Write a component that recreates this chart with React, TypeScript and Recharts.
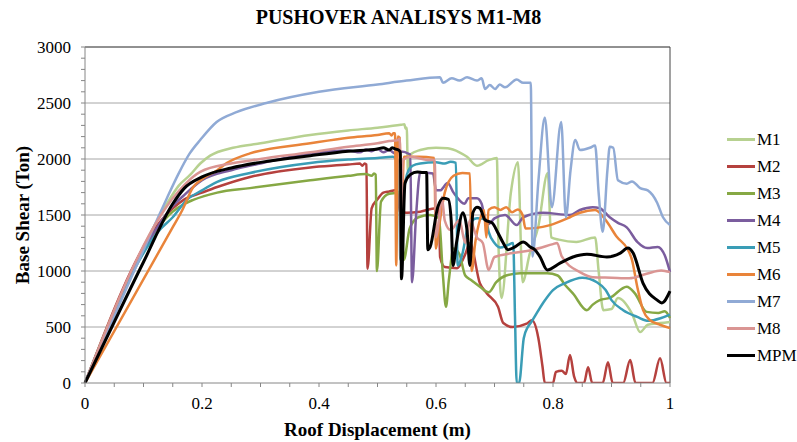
import React from 'react';
import { LineChart, Line, XAxis, YAxis, ReferenceLine } from 'recharts';

type Pt = [number, number];

// pushover curves: [roof displacement (m), base shear (ton)]
const m1: Pt[] = [
  [0, 0], [0.14, 1600], [0.16, 1760], [0.18, 1860], [0.197, 1960], [0.214, 2030], [0.253, 2100],
  [0.3, 2140], [0.385, 2215], [0.45, 2255], [0.5, 2280], [0.54, 2305], [0.546, 2310], [0.548, 2270],
  [0.55, 2280], [0.552, 1880], [0.556, 2040], [0.573, 2080], [0.6, 2100], [0.62, 2095], [0.64, 2060],
  [0.653, 2020], [0.67, 1940], [0.69, 1990], [0.704, 2010], [0.707, 1200], [0.712, 760], [0.728, 1700],
  [0.74, 1970], [0.748, 900], [0.76, 1150], [0.775, 1400], [0.791, 1875], [0.797, 1300], [0.81, 1280],
  [0.84, 1260], [0.872, 1300], [0.878, 1000], [0.886, 650], [0.9, 660], [0.911, 760], [0.935, 620],
  [0.949, 455], [0.962, 520], [0.983, 535], [1, 545],
];

const m2: Pt[] = [
  [0, 0], [0.13, 1450], [0.15, 1560], [0.17, 1640], [0.2, 1700], [0.226, 1750], [0.282, 1840],
  [0.385, 1925], [0.45, 1950], [0.47, 1960], [0.474, 1940], [0.478, 1960], [0.481, 1950], [0.483, 1020],
  [0.49, 1560], [0.5, 1640], [0.51, 1700], [0.52, 1710], [0.53, 1720], [0.535, 1700], [0.538, 1530],
  [0.55, 1520], [0.573, 1530], [0.6, 1560], [0.605, 1560], [0.607, 1125], [0.615, 1035], [0.636, 1025],
  [0.65, 1150], [0.658, 1250], [0.675, 890], [0.687, 800], [0.706, 680], [0.715, 535], [0.731, 500],
  [0.755, 530], [0.764, 560], [0.775, 400], [0.782, 150], [0.786, 0], [0.8, 0], [0.805, 100],
  [0.815, 110], [0.822, 80], [0.829, 250], [0.836, 60], [0.842, 0], [0.853, 0], [0.86, 140], [0.867, 0],
  [0.885, 0], [0.894, 185], [0.902, 0], [0.92, 0], [0.932, 205], [0.941, 0], [0.97, 0], [0.983, 220],
  [0.994, 0], [1, 0],
];

const m3: Pt[] = [
  [0, 0], [0.13, 1420], [0.15, 1530], [0.17, 1600], [0.185, 1635], [0.226, 1700], [0.282, 1740],
  [0.385, 1810], [0.45, 1850], [0.48, 1865], [0.49, 1850], [0.494, 1870], [0.497, 1860], [0.499, 1000],
  [0.506, 1620], [0.52, 1690], [0.535, 1700], [0.54, 1720], [0.545, 1100], [0.555, 1380], [0.57, 1480],
  [0.59, 1500], [0.605, 1470], [0.612, 950], [0.617, 680], [0.622, 920], [0.63, 1200], [0.64, 1150],
  [0.65, 960], [0.66, 920], [0.675, 860], [0.69, 810], [0.703, 900], [0.72, 960], [0.744, 980],
  [0.79, 980], [0.808, 960], [0.82, 880], [0.834, 800], [0.858, 650], [0.868, 700], [0.88, 740],
  [0.897, 760], [0.926, 860], [0.94, 800], [0.96, 635], [0.98, 625], [0.991, 640], [1, 580],
];

const m4: Pt[] = [
  [0, 0], [0.13, 1440], [0.15, 1580], [0.17, 1680], [0.185, 1750], [0.2, 1810], [0.25, 1900],
  [0.3, 1960], [0.385, 2050], [0.45, 2075], [0.47, 2060], [0.48, 2085], [0.49, 2070], [0.5, 2090],
  [0.51, 2060], [0.52, 2080], [0.53, 2050], [0.538, 2070], [0.556, 2040], [0.559, 900], [0.566, 1500],
  [0.573, 1880], [0.595, 1870], [0.6, 1720], [0.607, 1720], [0.62, 1785], [0.63, 1700], [0.649, 1600],
  [0.655, 1650], [0.67, 1650], [0.678, 1600], [0.683, 1480], [0.69, 1420], [0.7, 1470], [0.718, 1500],
  [0.738, 1410], [0.749, 1480], [0.783, 1520], [0.829, 1500], [0.846, 1545], [0.868, 1570], [0.88, 1560],
  [0.897, 1480], [0.911, 1430], [0.926, 1390], [0.944, 1260], [0.961, 1205], [0.979, 1215], [0.991, 1140],
  [1, 990],
];

const m5: Pt[] = [
  [0, 0], [0.13, 1380], [0.15, 1480], [0.174, 1635], [0.2, 1720], [0.226, 1795], [0.282, 1875],
  [0.385, 1965], [0.45, 1995], [0.5, 2010], [0.526, 2020], [0.533, 2000], [0.537, 1980], [0.539, 1100],
  [0.545, 1700], [0.553, 1900], [0.56, 1940], [0.573, 1960], [0.6, 1970], [0.615, 1960], [0.625, 1975],
  [0.634, 1965], [0.637, 1050], [0.645, 1150], [0.655, 1400], [0.67, 1470], [0.685, 1460], [0.69, 1350],
  [0.7, 1250], [0.71, 1210], [0.722, 1230], [0.732, 1250], [0.735, 600], [0.738, 0], [0.742, 0],
  [0.75, 400], [0.757, 500], [0.763, 545], [0.783, 715], [0.8, 830], [0.82, 890], [0.85, 940],
  [0.875, 900], [0.89, 830], [0.9, 740], [0.92, 650], [0.944, 590], [0.963, 555], [0.985, 580], [1, 610],
];

const m6: Pt[] = [
  [0, 0], [0.151, 1400], [0.166, 1540], [0.185, 1750], [0.2, 1820], [0.226, 1900], [0.243, 1965],
  [0.282, 2050], [0.385, 2140], [0.45, 2190], [0.5, 2215], [0.52, 2230], [0.524, 2210], [0.527, 2230],
  [0.53, 2230], [0.532, 1050], [0.535, 2200], [0.538, 2190], [0.541, 1400], [0.545, 2020], [0.57, 2020],
  [0.597, 2010], [0.6, 1200], [0.604, 1350], [0.615, 1700], [0.63, 1850], [0.645, 1875], [0.658, 1870],
  [0.661, 1000], [0.667, 1250], [0.675, 1455], [0.682, 1545], [0.686, 1300], [0.69, 1545], [0.7, 1570],
  [0.71, 1545], [0.72, 1570], [0.73, 1525], [0.74, 1550], [0.748, 1500], [0.753, 1380], [0.772, 1385],
  [0.795, 1410], [0.829, 1480], [0.846, 1520], [0.872, 1545], [0.89, 1455], [0.909, 1305], [0.928, 1190],
  [0.935, 1100], [0.944, 860], [0.954, 650], [0.966, 560], [0.983, 520], [1, 490],
];

const m7: Pt[] = [
  [0, 0], [0.123, 1455], [0.14, 1650], [0.16, 1870], [0.179, 2050], [0.197, 2170], [0.225, 2330],
  [0.26, 2420], [0.31, 2500], [0.4, 2600], [0.5, 2665], [0.55, 2700], [0.607, 2730], [0.612, 2680],
  [0.627, 2720], [0.64, 2700], [0.653, 2730], [0.67, 2700], [0.678, 2720], [0.684, 2625], [0.692, 2660],
  [0.701, 2625], [0.709, 2665], [0.718, 2640], [0.738, 2710], [0.749, 2680], [0.762, 2680], [0.765, 1130],
  [0.775, 1800], [0.786, 2370], [0.798, 1570], [0.814, 2330], [0.822, 1480], [0.83, 1900], [0.838, 2170],
  [0.846, 2080], [0.863, 2100], [0.872, 2120], [0.878, 1700], [0.885, 1350], [0.893, 1900], [0.897, 2110],
  [0.903, 2100], [0.911, 1810], [0.926, 1780], [0.935, 1800], [0.949, 1740], [0.962, 1720], [0.978, 1610],
  [0.988, 1480], [1, 1410],
];

const m8: Pt[] = [
  [0, 0], [0.13, 1500], [0.15, 1650], [0.17, 1770], [0.197, 1885], [0.25, 1960], [0.3, 2000],
  [0.385, 2060], [0.45, 2110], [0.5, 2140], [0.52, 2160], [0.535, 2170], [0.538, 2180], [0.54, 1100],
  [0.543, 1990], [0.556, 2020], [0.59, 1990], [0.598, 1990], [0.6, 1300], [0.605, 1455], [0.61, 1660],
  [0.615, 1450], [0.625, 1365], [0.64, 1455], [0.65, 1250], [0.658, 1455], [0.67, 1300], [0.68, 1250],
  [0.69, 1010], [0.7, 1125], [0.731, 1160], [0.766, 1190], [0.8, 1240], [0.807, 1250], [0.815, 1130],
  [0.846, 990], [0.868, 945], [0.9, 940], [0.93, 935], [0.96, 975], [0.985, 1005], [1, 990],
];

const mpm: Pt[] = [
  [0, 0], [0.1, 1080], [0.15, 1600], [0.17, 1740], [0.2, 1840], [0.25, 1920], [0.3, 1970],
  [0.385, 2030], [0.45, 2070], [0.5, 2090], [0.51, 2100], [0.52, 2080], [0.525, 2100], [0.53, 2090],
  [0.536, 2080], [0.539, 2060], [0.541, 930], [0.547, 1785], [0.556, 1860], [0.568, 1885], [0.578, 1880],
  [0.584, 1880], [0.586, 1190], [0.59, 1215], [0.603, 1570], [0.612, 1650], [0.621, 1640], [0.626, 1450],
  [0.629, 1050], [0.635, 1250], [0.646, 1520], [0.653, 1365], [0.658, 1050], [0.663, 1520], [0.67, 1570],
  [0.675, 1560], [0.684, 1455], [0.696, 1430], [0.706, 1340], [0.715, 1250], [0.723, 1190], [0.735, 1215],
  [0.749, 1260], [0.761, 1215], [0.769, 1190], [0.778, 1125], [0.79, 1010], [0.812, 1070], [0.834, 1125],
  [0.858, 1150], [0.892, 1125], [0.915, 1160], [0.928, 1205], [0.937, 1160], [0.954, 890], [0.978, 740],
  [0.986, 715], [1, 820],
];

const seriesNames = ['M1', 'M2', 'M3', 'M4', 'M5', 'M6', 'M7', 'M8', 'MPM'];
const seriesPoints = [m1, m2, m3, m4, m5, m6, m7, m8, mpm];
const seriesColors = ['#B7D190', '#B5413E', '#86A844', '#7B5D9E', '#3A9DB6', '#E9843A', '#90AAD5', '#DA9593', '#000000'];

const gridY = [500, 1000, 1500, 2000, 2500];
const yTicks = Array.from({ length: 31 }, (_, i) => i * 100);
const xTicks = Array.from({ length: 21 }, (_, i) => i * 0.05);

const serif = '"Liberation Serif", "Times New Roman", serif';

const series = seriesNames.map((name, i) => ({
  name,
  color: seriesColors[i],
  data: seriesPoints[i].map(([x, y]) => ({ x, y })),
}));

const fmtY = (v: number) => (v % 500 === 0 ? String(v) : '');
const fmtX = (v: number) => {
  const k = Math.round(v * 20);
  return k % 4 === 0 ? String(k / 20) : '';
};

function Legend() {
  return (
    <div style={{ position: 'absolute', left: 727, top: 126, fontFamily: serif, fontSize: 17 }}>
      {series.map((s) => (
        <div key={s.name} style={{ display: 'flex', alignItems: 'center', height: 27 }}>
          <div style={{ width: 28, height: 3, background: s.color, marginRight: 2 }} />
          <span style={{ color: '#000' }}>{s.name}</span>
        </div>
      ))}
    </div>
  );
}

export default function App() {
  return (
    <div style={{ position: 'absolute', left: 0, top: 0, width: 797, height: 442, background: '#fff' }}>
      <div
        style={{
          position: 'absolute',
          left: 0,
          width: 797,
          top: 6,
          textAlign: 'center',
          fontFamily: serif,
          fontWeight: 700,
          fontSize: 20,
        }}
      >
        PUSHOVER ANALISYS M1-M8
      </div>
      <LineChart width={797} height={442} margin={{ top: 47, right: 127, bottom: 0, left: 0 }}>
        <XAxis
          type="number"
          dataKey="x"
          domain={[0, 1]}
          ticks={xTicks}
          interval={0}
          tickFormatter={fmtX}
          height={59}
          tickSize={4}
          tickMargin={10}
          axisLine={{ stroke: '#868686' }}
          tickLine={{ stroke: '#868686' }}
          tick={{ fill: '#000', fontSize: 17, fontFamily: serif }}
          label={{
            value: 'Roof Displacement (m)',
            position: 'insideBottom',
            offset: 6,
            style: { fill: '#000', fontSize: 19, fontWeight: 700, fontFamily: serif },
          }}
        />
        <YAxis
          type="number"
          domain={[0, 3000]}
          ticks={yTicks}
          interval={0}
          tickFormatter={fmtY}
          width={85}
          tickSize={4}
          tickMargin={10}
          allowDataOverflow
          axisLine={{ stroke: '#868686' }}
          tickLine={{ stroke: '#868686' }}
          tick={{ fill: '#000', fontSize: 17, fontFamily: serif }}
          label={{
            value: 'Base Shear (Ton)',
            angle: -90,
            position: 'insideLeft',
            offset: 22,
            style: { textAnchor: 'middle', fill: '#000', fontSize: 19, fontWeight: 700, fontFamily: serif },
          }}
        />
        {gridY.map((v) => (
          <ReferenceLine key={v} y={v} stroke="#A6A6A6" strokeWidth={1} />
        ))}
        <ReferenceLine y={3000} stroke="#222" strokeWidth={1} />
        <ReferenceLine x={1} stroke="#444" strokeWidth={1} />
        {series.map((s) => (
          <Line
            key={s.name}
            data={s.data}
            dataKey="y"
            name={s.name}
            type="monotone"
            stroke={s.color}
            strokeWidth={s.name === 'MPM' ? 3 : 2.5}
            dot={false}
            activeDot={false}
            isAnimationActive={false}
          />
        ))}
      </LineChart>
      <Legend />
    </div>
  );
}
